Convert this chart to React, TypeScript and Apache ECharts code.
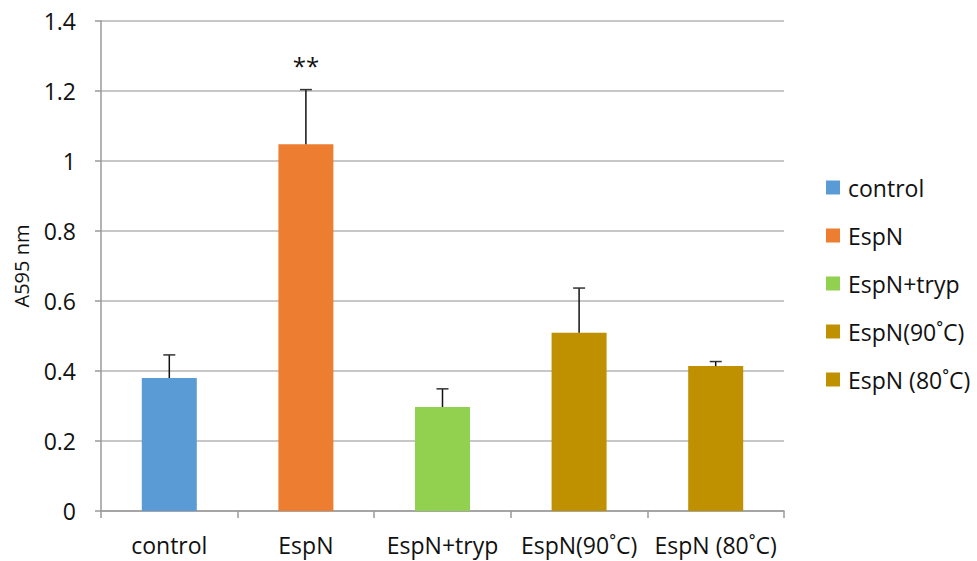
import React, { useEffect, useRef } from "react";
import * as echarts from "echarts";

const categories = ["control", "EspN", "EspN+tryp", "EspN(90˚C)", "EspN (80˚C)"];
const values = [0.38, 1.048, 0.297, 0.509, 0.414];
const errors = [0.066, 0.156, 0.052, 0.128, 0.013];
const significance = ["", "**", "", "", ""];
const colors = ["#5B9BD5", "#ED7D31", "#92D050", "#BF9000", "#BF9000"];
const yTicks = [0, 0.2, 0.4, 0.6, 0.8, 1, 1.2, 1.4];

const FONT = "Open Sans";

export default function App() {
  const ref = useRef<HTMLDivElement>(null);
  useEffect(() => {
    if (!ref.current) return;
    const chart = echarts.init(ref.current, undefined, { renderer: "svg" });
    const barSeries = categories.map((name, i) => ({
      type: "bar",
      name,
      data: categories.map((_, j) => (j === i ? values[j] : "-")),
      barWidth: 55,
      barGap: "-100%",
      itemStyle: { color: colors[i] },
      z: 2,
    }));
    const errData = categories.map((_, i) => [i, values[i], errors[i], significance[i]]);
    chart.setOption({
      animation: false,
      textStyle: { fontFamily: FONT },
      grid: { left: 101, right: 193, top: 21, bottom: 50, containLabel: false },
      legend: {
        orient: "vertical",
        left: 826,
        top: 176,
        padding: 0,
        itemWidth: 14,
        itemHeight: 14,
        itemGap: 25,
        icon: "rect",
        data: categories,
        textStyle: { fontSize: 23, lineHeight: 23, color: "#111", fontFamily: FONT, padding: [0, 0, 0, 3] },
      },
      xAxis: {
        type: "category",
        data: categories,
        axisLine: { lineStyle: { color: "#9a9a9a", width: 1.5 } },
        axisTick: { show: true, length: 7, lineStyle: { color: "#9a9a9a", width: 1.5 } },
        axisLabel: { fontSize: 23, color: "#111", margin: 22, fontFamily: FONT, interval: 0 },
      },
      yAxis: {
        type: "value",
        min: 0,
        max: 1.4,
        interval: 0.2,
        name: "A595 nm",
        nameLocation: "middle",
        nameGap: 70,
        nameRotate: 90,
        nameTextStyle: { fontSize: 20, color: "#111", fontFamily: FONT },
        axisLine: { show: true, lineStyle: { color: "#9a9a9a", width: 1.5 } },
        axisTick: { show: true, length: 6, lineStyle: { color: "#9a9a9a", width: 1.5 } },
        axisLabel: {
          fontSize: 23,
          color: "#111",
          margin: 25,
          fontFamily: FONT,
          formatter: (v: number) => {
            const t = yTicks.find((x) => Math.abs(x - v) < 1e-9);
            return String(t !== undefined ? t : v);
          },
        },
        splitLine: { lineStyle: { color: "#b4b4b4", width: 1.5 } },
      },
      series: [
        ...barSeries,
        {
          type: "custom",
          name: "err",
          data: errData,
          encode: { x: 0, y: 1 },
          z: 5,
          renderItem: (params: any, api: any) => {
            const idx = api.value(0);
            const v = api.value(1);
            const e = api.value(2);
            const sig = errData[params.dataIndex][3] as string;
            const base = api.coord([idx, v]);
            const top = api.coord([idx, v + e]);
            const children: any[] = [
              {
                type: "line",
                shape: { x1: base[0], y1: base[1], x2: top[0], y2: top[1] },
                style: { stroke: "#111", lineWidth: 1.5 },
              },
              {
                type: "line",
                shape: { x1: top[0] - 6, y1: top[1], x2: top[0] + 6, y2: top[1] },
                style: { stroke: "#333", lineWidth: 1.5 },
              },
            ];
            if (sig) {
              children.push({
                type: "text",
                style: {
                  text: sig,
                  x: top[0],
                  y: top[1] - 24,
                  align: "center",
                  verticalAlign: "middle",
                  fontSize: 24,
                  fontFamily: FONT,
                  fill: "#111",
                },
              });
            }
            return { type: "group", children };
          },
        },
      ],
    });
    return () => chart.dispose();
  }, []);
  return <div ref={ref} style={{ width: 977, height: 561, position: "absolute", left: 0, top: 0 }} />;
}
